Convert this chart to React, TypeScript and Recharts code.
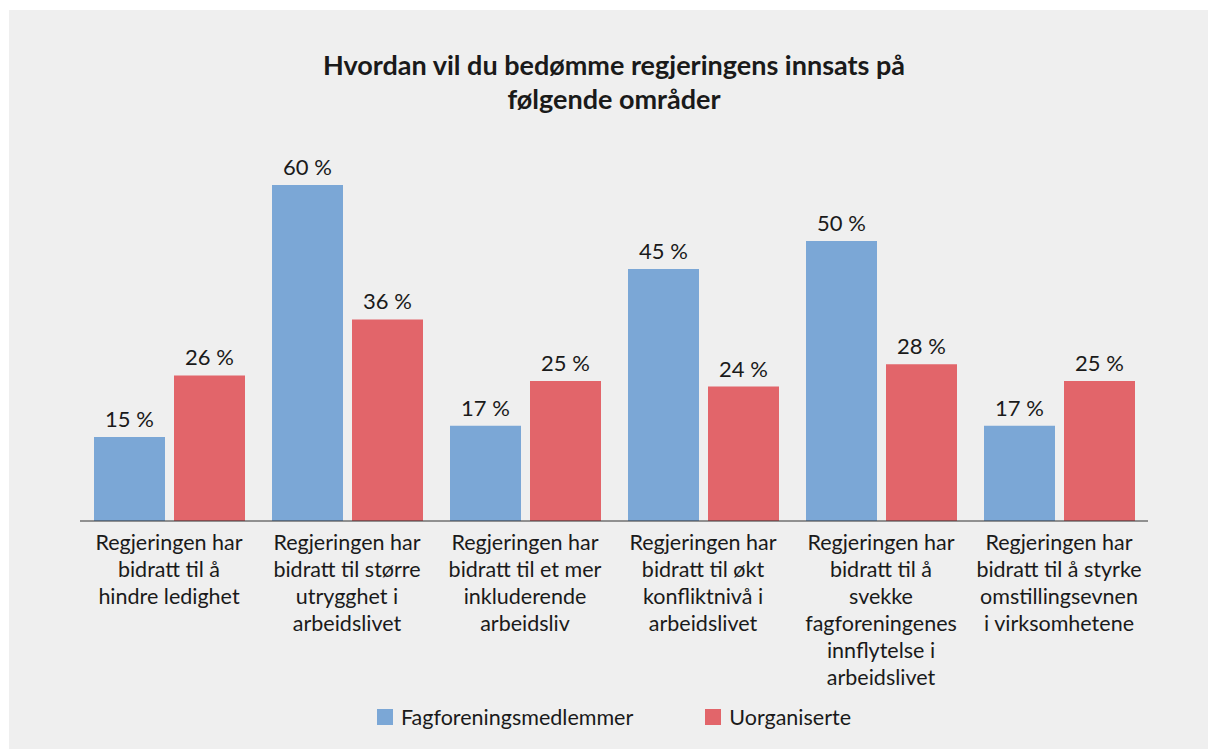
import { Bar, BarChart, LabelList, XAxis, YAxis } from "recharts";

const categories = [
  "Regjeringen har\nbidratt til å\nhindre ledighet",
  "Regjeringen har\nbidratt til større\nutrygghet i\narbeidslivet",
  "Regjeringen har\nbidratt til et mer\ninkluderende\narbeidsliv",
  "Regjeringen har\nbidratt til økt\nkonfliktnivå i\narbeidslivet",
  "Regjeringen har\nbidratt til å\nsvekke\nfagforeningenes\ninnflytelse i\narbeidslivet",
  "Regjeringen har\nbidratt til å styrke\nomstillingsevnen\ni virksomhetene",
];
const members = [15, 60, 17, 45, 50, 17];
const unorganised = [26, 36, 25, 24, 28, 25];
const seriesNames = ["Fagforeningsmedlemmer", "Uorganiserte"];
const titleLines = ["Hvordan vil du bedømme regjeringens innsats på", "følgende områder"];

const BLUE = "#7ba7d6";
const RED = "#e2656a";
const INK = "#1a1a1a";
const FONT = "Lato, 'Open Sans', sans-serif";

const W = 1199;
const H = 739;

const data = categories.map((c, i) => ({ cat: c, members: members[i], unorganised: unorganised[i] }));

// multi-line category label under the axis
function CatTick(props: any) {
  const { x, y, payload } = props;
  const lines = String(payload.value).split("\n");
  return (
    <text x={x} y={y} textAnchor="middle" fill={INK} fontSize={21.5} fontFamily={FONT}>
      {lines.map((l, i) => (
        <tspan key={i} x={x} y={y + 29 + i * 27}>
          {l}
        </tspan>
      ))}
    </text>
  );
}

export default function App() {
  const colors = [BLUE, RED];
  return (
    <div
      style={{
        position: "absolute",
        left: 9,
        top: 10,
        width: W,
        height: H,
        background: "#efefef",
        fontFamily: FONT,
        color: INK,
      }}
    >
      <div
        style={{
          position: "absolute",
          left: 71,
          width: 1068,
          top: 38,
          textAlign: "center",
          fontWeight: 700,
          fontSize: 27,
          lineHeight: "34px",
        }}
      >
        {titleLines.map((t) => (
          <div key={t}>{t}</div>
        ))}
      </div>

      <BarChart
        width={W}
        height={H}
        data={data}
        margin={{ top: 175, right: 60, left: 71, bottom: 0 }}
        barSize={71}
        barGap={9}
      >
        <YAxis hide domain={[0, 60]} />
        <XAxis
          dataKey="cat"
          height={228}
          interval={0}
          tickLine={false}
          tickSize={0}
          tickMargin={0}
          axisLine={{ stroke: "#333", strokeWidth: 1.2 }}
          tick={<CatTick />}
        />
        <Bar dataKey="members" fill={BLUE} isAnimationActive={false}>
          <LabelList
            dataKey="members"
            position="top"
            offset={10}
            formatter={(v: any) => `${v} %`}
            style={{ fill: INK, fontSize: 22, fontFamily: FONT }}
          />
        </Bar>
        <Bar dataKey="unorganised" fill={RED} isAnimationActive={false}>
          <LabelList
            dataKey="unorganised"
            position="top"
            offset={10}
            formatter={(v: any) => `${v} %`}
            style={{ fill: INK, fontSize: 22, fontFamily: FONT }}
          />
        </Bar>
      </BarChart>

      <div
        style={{
          position: "absolute",
          left: 71,
          width: 1068,
          top: 694,
          height: 26,
          display: "flex",
          justifyContent: "center",
          alignItems: "center",
          gap: 72,
          fontSize: 21.5,
        }}
      >
        {seriesNames.map((n, i) => (
          <div key={n} style={{ display: "flex", alignItems: "center", gap: 8 }}>
            <span style={{ width: 16, height: 16, background: colors[i], display: "inline-block" }} />
            <span>{n}</span>
          </div>
        ))}
      </div>
    </div>
  );
}
